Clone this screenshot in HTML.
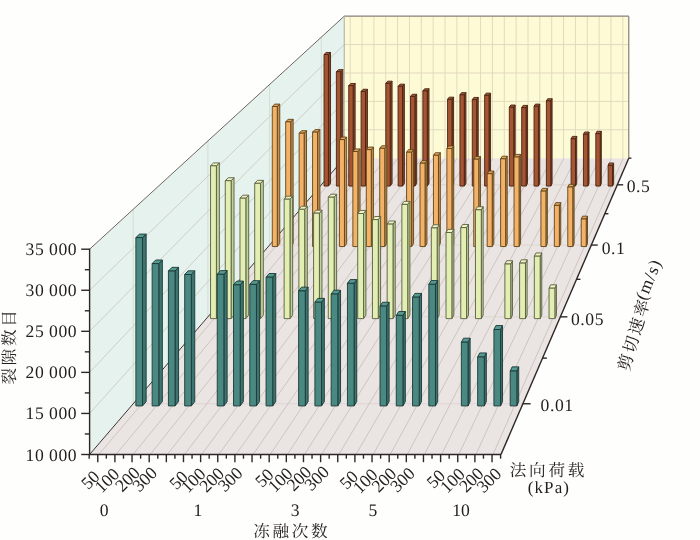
<!DOCTYPE html>
<html><head><meta charset="utf-8"><title>chart</title>
<style>html,body{margin:0;padding:0;background:#fefefc;}body{width:700px;height:540px;overflow:hidden;font-family:"Liberation Serif",serif;}</style></head>
<body>
<svg width="700" height="540" viewBox="0 0 700 540" style="display:block;will-change:transform">
<polygon points="89.60,454.50 501.00,454.50 628.77,158.17 344.24,158.17" fill="#eae5e2"/>
<polygon points="89.60,454.50 344.24,158.17 344.24,16.18 89.60,249.20" fill="#e5f2ee"/>
<polygon points="344.24,158.17 628.77,158.17 628.77,16.18 344.24,16.18" fill="#fdfbd5"/>
<g stroke="#c3b9b7" stroke-width="0.75" fill="none">
<line x1="98.77" y1="454.50" x2="350.58" y2="158.17" />
<line x1="115.91" y1="454.50" x2="362.44" y2="158.17" />
<line x1="133.05" y1="454.50" x2="374.29" y2="158.17" />
<line x1="150.20" y1="454.50" x2="386.15" y2="158.17" />
<line x1="167.34" y1="454.50" x2="398.00" y2="158.17" />
<line x1="184.48" y1="454.50" x2="409.86" y2="158.17" />
<line x1="201.62" y1="454.50" x2="421.71" y2="158.17" />
<line x1="218.76" y1="454.50" x2="433.57" y2="158.17" />
<line x1="235.90" y1="454.50" x2="445.42" y2="158.17" />
<line x1="253.05" y1="454.50" x2="457.28" y2="158.17" />
<line x1="270.19" y1="454.50" x2="469.13" y2="158.17" />
<line x1="287.33" y1="454.50" x2="480.99" y2="158.17" />
<line x1="304.47" y1="454.50" x2="492.84" y2="158.17" />
<line x1="321.61" y1="454.50" x2="504.70" y2="158.17" />
<line x1="338.75" y1="454.50" x2="516.55" y2="158.17" />
<line x1="355.90" y1="454.50" x2="528.41" y2="158.17" />
<line x1="373.04" y1="454.50" x2="540.27" y2="158.17" />
<line x1="390.18" y1="454.50" x2="552.12" y2="158.17" />
<line x1="407.32" y1="454.50" x2="563.98" y2="158.17" />
<line x1="424.46" y1="454.50" x2="575.83" y2="158.17" />
<line x1="441.60" y1="454.50" x2="587.69" y2="158.17" />
<line x1="458.75" y1="454.50" x2="599.54" y2="158.17" />
<line x1="475.89" y1="454.50" x2="611.40" y2="158.17" />
<line x1="493.03" y1="454.50" x2="623.25" y2="158.17" />
</g>
<g stroke="#d6cecb" stroke-width="0.7" fill="none">
<line x1="133.19" y1="403.77" x2="522.87" y2="403.77" />
<line x1="207.89" y1="316.84" x2="560.35" y2="316.84" />
<line x1="269.56" y1="245.07" x2="591.30" y2="245.07" />
<line x1="321.34" y1="184.81" x2="617.28" y2="184.81" />
</g>
<g stroke="#c4beb6" stroke-width="0.7" fill="none">
<line x1="89.60" y1="413.44" x2="344.24" y2="129.77" />
<line x1="89.60" y1="372.38" x2="344.24" y2="101.37" />
<line x1="89.60" y1="331.32" x2="344.24" y2="72.98" />
<line x1="89.60" y1="290.26" x2="344.24" y2="44.58" />
</g>
<g stroke="#d0d2c8" stroke-width="0.7" fill="none">
<line x1="133.19" y1="403.77" x2="133.19" y2="209.31" />
<line x1="207.89" y1="316.84" x2="207.89" y2="140.95" />
<line x1="269.56" y1="245.07" x2="269.56" y2="84.52" />
<line x1="321.34" y1="184.81" x2="321.34" y2="37.13" />
</g>
<g stroke="#e2dac0" stroke-width="1" fill="none">
<line x1="350.16" y1="158.17" x2="350.16" y2="16.18" />
<line x1="362.02" y1="158.17" x2="362.02" y2="16.18" />
<line x1="373.88" y1="158.17" x2="373.88" y2="16.18" />
<line x1="385.73" y1="158.17" x2="385.73" y2="16.18" />
<line x1="397.59" y1="158.17" x2="397.59" y2="16.18" />
<line x1="409.44" y1="158.17" x2="409.44" y2="16.18" />
<line x1="421.30" y1="158.17" x2="421.30" y2="16.18" />
<line x1="433.15" y1="158.17" x2="433.15" y2="16.18" />
<line x1="445.01" y1="158.17" x2="445.01" y2="16.18" />
<line x1="456.86" y1="158.17" x2="456.86" y2="16.18" />
<line x1="468.72" y1="158.17" x2="468.72" y2="16.18" />
<line x1="480.57" y1="158.17" x2="480.57" y2="16.18" />
<line x1="492.43" y1="158.17" x2="492.43" y2="16.18" />
<line x1="504.28" y1="158.17" x2="504.28" y2="16.18" />
<line x1="516.14" y1="158.17" x2="516.14" y2="16.18" />
<line x1="528.00" y1="158.17" x2="528.00" y2="16.18" />
<line x1="539.85" y1="158.17" x2="539.85" y2="16.18" />
<line x1="551.71" y1="158.17" x2="551.71" y2="16.18" />
<line x1="563.56" y1="158.17" x2="563.56" y2="16.18" />
<line x1="575.42" y1="158.17" x2="575.42" y2="16.18" />
<line x1="587.27" y1="158.17" x2="587.27" y2="16.18" />
<line x1="599.13" y1="158.17" x2="599.13" y2="16.18" />
<line x1="610.98" y1="158.17" x2="610.98" y2="16.18" />
<line x1="622.84" y1="158.17" x2="622.84" y2="16.18" />
<line x1="344.24" y1="129.77" x2="628.77" y2="129.77" />
<line x1="344.24" y1="101.37" x2="628.77" y2="101.37" />
<line x1="344.24" y1="72.98" x2="628.77" y2="72.98" />
<line x1="344.24" y1="44.58" x2="628.77" y2="44.58" />
</g>
<line x1="89.60" y1="249.20" x2="344.24" y2="16.18" stroke="#6e6462" stroke-width="1"/>
<line x1="344.24" y1="16.18" x2="628.77" y2="16.18" stroke="#8a7e78" stroke-width="1.2"/>
<line x1="628.77" y1="16.18" x2="628.77" y2="158.17" stroke="#8a7e78" stroke-width="1.2"/>
<line x1="344.24" y1="16.18" x2="344.24" y2="158.17" stroke="#a8a29c" stroke-width="0.9"/>
<line x1="89.60" y1="454.50" x2="344.24" y2="158.17" stroke="#3e3434" stroke-width="1"/>
<g stroke="#472313" stroke-width="0.9" stroke-linejoin="round">
<polygon points="328.43,186.06 330.53,183.57 330.53,52.49 328.43,54.50" fill="#874628"/>
<polygon points="324.03,54.50 328.43,54.50 330.53,52.49 326.15,52.49" fill="#ac5b36"/>
<polygon points="324.03,186.06 328.43,186.06 328.43,54.50 324.03,54.50" fill="#a55532"/>
<polygon points="340.78,186.06 342.84,183.57 342.84,69.63 340.78,71.70" fill="#874628"/>
<polygon points="336.39,71.70 340.78,71.70 342.84,69.63 338.46,69.63" fill="#ac5b36"/>
<polygon points="336.39,186.06 340.78,186.06 340.78,71.70 336.39,71.70" fill="#a55532"/>
<polygon points="353.14,186.06 355.15,183.57 355.15,83.48 353.14,85.60" fill="#874628"/>
<polygon points="348.74,85.60 353.14,85.60 355.15,83.48 350.77,83.48" fill="#ac5b36"/>
<polygon points="348.74,186.06 353.14,186.06 353.14,85.60 348.74,85.60" fill="#a55532"/>
<polygon points="365.49,186.06 367.46,183.57 367.46,89.26 365.49,91.40" fill="#874628"/>
<polygon points="361.09,91.40 365.49,91.40 367.46,89.26 363.08,89.26" fill="#ac5b36"/>
<polygon points="361.09,186.06 365.49,186.06 365.49,91.40 361.09,91.40" fill="#a55532"/>
<polygon points="390.19,186.06 392.08,183.57 392.08,81.19 390.19,83.30" fill="#874628"/>
<polygon points="385.80,83.30 390.19,83.30 392.08,81.19 387.70,81.19" fill="#ac5b36"/>
<polygon points="385.80,186.06 390.19,186.06 390.19,83.30 385.80,83.30" fill="#a55532"/>
<polygon points="402.55,186.06 404.39,183.57 404.39,84.17 402.55,86.30" fill="#874628"/>
<polygon points="398.15,86.30 402.55,86.30 404.39,84.17 400.01,84.17" fill="#ac5b36"/>
<polygon points="398.15,186.06 402.55,186.06 402.55,86.30 398.15,86.30" fill="#a55532"/>
<polygon points="414.90,186.06 416.69,183.57 416.69,94.24 414.90,96.40" fill="#874628"/>
<polygon points="410.50,96.40 414.90,96.40 416.69,94.24 412.31,94.24" fill="#ac5b36"/>
<polygon points="410.50,186.06 414.90,186.06 414.90,96.40 410.50,96.40" fill="#a55532"/>
<polygon points="427.25,186.06 429.00,183.57 429.00,88.76 427.25,90.90" fill="#874628"/>
<polygon points="422.86,90.90 427.25,90.90 429.00,88.76 424.62,88.76" fill="#ac5b36"/>
<polygon points="422.86,186.06 427.25,186.06 427.25,90.90 422.86,90.90" fill="#a55532"/>
<polygon points="451.96,186.06 453.62,183.57 453.62,97.13 451.96,99.30" fill="#874628"/>
<polygon points="447.56,99.30 451.96,99.30 453.62,97.13 449.24,97.13" fill="#ac5b36"/>
<polygon points="447.56,186.06 451.96,186.06 451.96,99.30 447.56,99.30" fill="#a55532"/>
<polygon points="464.31,186.06 465.93,183.57 465.93,92.64 464.31,94.80" fill="#874628"/>
<polygon points="459.92,94.80 464.31,94.80 465.93,92.64 461.55,92.64" fill="#ac5b36"/>
<polygon points="459.92,186.06 464.31,186.06 464.31,94.80 459.92,94.80" fill="#a55532"/>
<polygon points="476.66,186.06 478.24,183.57 478.24,97.43 476.66,99.60" fill="#874628"/>
<polygon points="472.27,99.60 476.66,99.60 478.24,97.43 473.86,97.43" fill="#ac5b36"/>
<polygon points="472.27,186.06 476.66,186.06 476.66,99.60 472.27,99.60" fill="#a55532"/>
<polygon points="489.02,186.06 490.55,183.57 490.55,93.14 489.02,95.30" fill="#874628"/>
<polygon points="484.62,95.30 489.02,95.30 490.55,93.14 486.17,93.14" fill="#ac5b36"/>
<polygon points="484.62,186.06 489.02,186.06 489.02,95.30 484.62,95.30" fill="#a55532"/>
<polygon points="513.72,186.06 515.16,183.57 515.16,105.00 513.72,107.20" fill="#874628"/>
<polygon points="509.33,107.20 513.72,107.20 515.16,105.00 510.78,105.00" fill="#ac5b36"/>
<polygon points="509.33,186.06 513.72,186.06 513.72,107.20 509.33,107.20" fill="#a55532"/>
<polygon points="526.08,186.06 527.47,183.57 527.47,105.40 526.08,107.60" fill="#874628"/>
<polygon points="521.68,107.60 526.08,107.60 527.47,105.40 523.09,105.40" fill="#ac5b36"/>
<polygon points="521.68,186.06 526.08,186.06 526.08,107.60 521.68,107.60" fill="#a55532"/>
<polygon points="538.43,186.06 539.78,183.57 539.78,104.10 538.43,106.30" fill="#874628"/>
<polygon points="534.03,106.30 538.43,106.30 539.78,104.10 535.40,104.10" fill="#ac5b36"/>
<polygon points="534.03,186.06 538.43,186.06 538.43,106.30 534.03,106.30" fill="#a55532"/>
<polygon points="550.78,186.06 552.09,183.57 552.09,98.72 550.78,100.90" fill="#874628"/>
<polygon points="546.39,100.90 550.78,100.90 552.09,98.72 547.71,98.72" fill="#ac5b36"/>
<polygon points="546.39,186.06 550.78,186.06 550.78,100.90 546.39,100.90" fill="#a55532"/>
<polygon points="575.49,186.06 576.71,183.57 576.71,136.39 575.49,138.70" fill="#874628"/>
<polygon points="571.09,138.70 575.49,138.70 576.71,136.39 572.33,136.39" fill="#ac5b36"/>
<polygon points="571.09,186.06 575.49,186.06 575.49,138.70 571.09,138.70" fill="#a55532"/>
<polygon points="587.84,186.06 589.01,183.57 589.01,132.00 587.84,134.30" fill="#874628"/>
<polygon points="583.44,134.30 587.84,134.30 589.01,132.00 584.63,132.00" fill="#ac5b36"/>
<polygon points="583.44,186.06 587.84,186.06 587.84,134.30 583.44,134.30" fill="#a55532"/>
<polygon points="600.19,186.06 601.32,183.57 601.32,131.30 600.19,133.60" fill="#874628"/>
<polygon points="595.80,133.60 600.19,133.60 601.32,131.30 596.94,131.30" fill="#ac5b36"/>
<polygon points="595.80,186.06 600.19,186.06 600.19,133.60 595.80,133.60" fill="#a55532"/>
<polygon points="612.55,186.06 613.63,183.57 613.63,162.99 612.55,165.40" fill="#874628"/>
<polygon points="608.15,165.40 612.55,165.40 613.63,162.99 609.25,162.99" fill="#ac5b36"/>
<polygon points="608.15,186.06 612.55,186.06 612.55,165.40 608.15,165.40" fill="#a55532"/>
</g>
<g stroke="#5f4318" stroke-width="0.9" stroke-linejoin="round">
<polygon points="277.28,246.54 279.77,243.61 279.77,104.11 277.28,106.50" fill="#c39155"/>
<polygon points="272.27,106.50 277.28,106.50 279.77,104.11 274.78,104.11" fill="#e3a55c"/>
<polygon points="272.27,246.54 277.28,246.54 277.28,106.50 272.27,106.50" fill="#f3b268"/>
<polygon points="290.72,246.54 293.15,243.61 293.15,119.35 290.72,121.80" fill="#c39155"/>
<polygon points="285.70,121.80 290.72,121.80 293.15,119.35 288.16,119.35" fill="#e3a55c"/>
<polygon points="285.70,246.54 290.72,246.54 290.72,121.80 285.70,121.80" fill="#f3b268"/>
<polygon points="304.15,246.54 306.53,243.61 306.53,130.71 304.15,133.20" fill="#c39155"/>
<polygon points="299.13,133.20 304.15,133.20 306.53,130.71 301.54,130.71" fill="#e3a55c"/>
<polygon points="299.13,246.54 304.15,246.54 304.15,133.20 299.13,133.20" fill="#f3b268"/>
<polygon points="317.58,246.54 319.91,243.61 319.91,129.61 317.58,132.10" fill="#c39155"/>
<polygon points="312.57,132.10 317.58,132.10 319.91,129.61 314.91,129.61" fill="#e3a55c"/>
<polygon points="312.57,246.54 317.58,246.54 317.58,132.10 312.57,132.10" fill="#f3b268"/>
<polygon points="344.44,246.54 346.67,243.61 346.67,137.08 344.44,139.60" fill="#c39155"/>
<polygon points="339.43,139.60 344.44,139.60 346.67,137.08 341.67,137.08" fill="#e3a55c"/>
<polygon points="339.43,246.54 344.44,246.54 344.44,139.60 339.43,139.60" fill="#f3b268"/>
<polygon points="357.88,246.54 360.05,243.61 360.05,148.94 357.88,151.50" fill="#c39155"/>
<polygon points="352.86,151.50 357.88,151.50 360.05,148.94 355.05,148.94" fill="#e3a55c"/>
<polygon points="352.86,246.54 357.88,246.54 357.88,151.50 352.86,151.50" fill="#f3b268"/>
<polygon points="371.31,246.54 373.43,243.61 373.43,147.04 371.31,149.60" fill="#c39155"/>
<polygon points="366.29,149.60 371.31,149.60 373.43,147.04 368.43,147.04" fill="#e3a55c"/>
<polygon points="366.29,246.54 371.31,246.54 371.31,149.60 366.29,149.60" fill="#f3b268"/>
<polygon points="384.74,246.54 386.81,243.61 386.81,145.75 384.74,148.30" fill="#c39155"/>
<polygon points="379.72,148.30 384.74,148.30 386.81,145.75 381.81,145.75" fill="#e3a55c"/>
<polygon points="379.72,246.54 384.74,246.54 384.74,148.30 379.72,148.30" fill="#f3b268"/>
<polygon points="411.60,246.54 413.57,243.61 413.57,149.63 411.60,152.20" fill="#c39155"/>
<polygon points="406.59,152.20 411.60,152.20 413.57,149.63 408.57,149.63" fill="#e3a55c"/>
<polygon points="406.59,246.54 411.60,246.54 411.60,152.20 406.59,152.20" fill="#f3b268"/>
<polygon points="425.04,246.54 426.95,243.61 426.95,160.59 425.04,163.20" fill="#c39155"/>
<polygon points="420.02,163.20 425.04,163.20 426.95,160.59 421.95,160.59" fill="#e3a55c"/>
<polygon points="420.02,246.54 425.04,246.54 425.04,163.20 420.02,163.20" fill="#f3b268"/>
<polygon points="438.47,246.54 440.33,243.61 440.33,152.72 438.47,155.30" fill="#c39155"/>
<polygon points="433.45,155.30 438.47,155.30 440.33,152.72 435.33,152.72" fill="#e3a55c"/>
<polygon points="433.45,246.54 438.47,246.54 438.47,155.30 433.45,155.30" fill="#f3b268"/>
<polygon points="451.90,246.54 453.71,243.61 453.71,145.95 451.90,148.50" fill="#c39155"/>
<polygon points="446.88,148.50 451.90,148.50 453.71,145.95 448.71,145.95" fill="#e3a55c"/>
<polygon points="446.88,246.54 451.90,246.54 451.90,148.50 446.88,148.50" fill="#f3b268"/>
<polygon points="478.76,246.54 480.46,243.61 480.46,156.61 478.76,159.20" fill="#c39155"/>
<polygon points="473.75,159.20 478.76,159.20 480.46,156.61 475.47,156.61" fill="#e3a55c"/>
<polygon points="473.75,246.54 478.76,246.54 478.76,159.20 473.75,159.20" fill="#f3b268"/>
<polygon points="492.20,246.54 493.84,243.61 493.84,171.05 492.20,173.70" fill="#c39155"/>
<polygon points="487.18,173.70 492.20,173.70 493.84,171.05 488.85,171.05" fill="#e3a55c"/>
<polygon points="487.18,246.54 492.20,246.54 492.20,173.70 487.18,173.70" fill="#f3b268"/>
<polygon points="505.63,246.54 507.22,243.61 507.22,156.21 505.63,158.80" fill="#c39155"/>
<polygon points="500.61,158.80 505.63,158.80 507.22,156.21 502.23,156.21" fill="#e3a55c"/>
<polygon points="500.61,246.54 505.63,246.54 505.63,158.80 500.61,158.80" fill="#f3b268"/>
<polygon points="519.06,246.54 520.60,243.61 520.60,154.41 519.06,157.00" fill="#c39155"/>
<polygon points="514.04,157.00 519.06,157.00 520.60,154.41 515.61,154.41" fill="#e3a55c"/>
<polygon points="514.04,246.54 519.06,246.54 519.06,157.00 514.04,157.00" fill="#f3b268"/>
<polygon points="545.92,246.54 547.36,243.61 547.36,188.38 545.92,191.10" fill="#c39155"/>
<polygon points="540.91,191.10 545.92,191.10 547.36,188.38 542.37,188.38" fill="#e3a55c"/>
<polygon points="540.91,246.54 545.92,246.54 545.92,191.10 540.91,191.10" fill="#f3b268"/>
<polygon points="559.35,246.54 560.74,243.61 560.74,202.63 559.35,205.40" fill="#c39155"/>
<polygon points="554.34,205.40 559.35,205.40 560.74,202.63 555.75,202.63" fill="#e3a55c"/>
<polygon points="554.34,246.54 559.35,246.54 559.35,205.40 554.34,205.40" fill="#f3b268"/>
<polygon points="572.79,246.54 574.12,243.61 574.12,184.30 572.79,187.00" fill="#c39155"/>
<polygon points="567.77,187.00 572.79,187.00 574.12,184.30 569.13,184.30" fill="#e3a55c"/>
<polygon points="567.77,246.54 572.79,246.54 572.79,187.00 567.77,187.00" fill="#f3b268"/>
<polygon points="586.22,246.54 587.50,243.61 587.50,216.17 586.22,219.00" fill="#c39155"/>
<polygon points="581.20,219.00 586.22,219.00 587.50,216.17 582.51,216.17" fill="#e3a55c"/>
<polygon points="581.20,246.54 586.22,246.54 586.22,219.00 581.20,219.00" fill="#f3b268"/>
</g>
<g stroke="#595c40" stroke-width="0.9" stroke-linejoin="round">
<polygon points="216.39,318.61 219.38,315.09 219.38,162.93 216.39,165.80" fill="#bed29b"/>
<polygon points="210.55,165.80 216.39,165.80 219.38,162.93 213.56,162.93" fill="#eef4c4"/>
<polygon points="210.55,318.61 216.39,318.61 216.39,165.80 210.55,165.80" fill="#e2eeb2"/>
<polygon points="231.11,318.61 234.03,315.09 234.03,177.77 231.11,180.70" fill="#bed29b"/>
<polygon points="225.27,180.70 231.11,180.70 234.03,177.77 228.22,177.77" fill="#eef4c4"/>
<polygon points="225.27,318.61 231.11,318.61 231.11,180.70 225.27,180.70" fill="#e2eeb2"/>
<polygon points="245.83,318.61 248.69,315.09 248.69,195.19 245.83,198.20" fill="#bed29b"/>
<polygon points="239.99,198.20 245.83,198.20 248.69,195.19 242.87,195.19" fill="#eef4c4"/>
<polygon points="239.99,318.61 245.83,318.61 245.83,198.20 239.99,198.20" fill="#e2eeb2"/>
<polygon points="260.54,318.61 263.34,315.09 263.34,180.36 260.54,183.30" fill="#bed29b"/>
<polygon points="254.71,183.30 260.54,183.30 263.34,180.36 257.53,180.36" fill="#eef4c4"/>
<polygon points="254.71,318.61 260.54,318.61 260.54,183.30 254.71,183.30" fill="#e2eeb2"/>
<polygon points="289.98,318.61 292.65,315.09 292.65,196.19 289.98,199.20" fill="#bed29b"/>
<polygon points="284.14,199.20 289.98,199.20 292.65,196.19 286.84,196.19" fill="#eef4c4"/>
<polygon points="284.14,318.61 289.98,318.61 289.98,199.20 284.14,199.20" fill="#e2eeb2"/>
<polygon points="304.70,318.61 307.30,315.09 307.30,206.24 304.70,209.30" fill="#bed29b"/>
<polygon points="298.86,209.30 304.70,209.30 307.30,206.24 301.49,206.24" fill="#eef4c4"/>
<polygon points="298.86,318.61 304.70,318.61 304.70,209.30 298.86,209.30" fill="#e2eeb2"/>
<polygon points="319.41,318.61 321.96,315.09 321.96,210.13 319.41,213.20" fill="#bed29b"/>
<polygon points="313.58,213.20 319.41,213.20 321.96,210.13 316.14,210.13" fill="#eef4c4"/>
<polygon points="313.58,318.61 319.41,318.61 319.41,213.20 313.58,213.20" fill="#e2eeb2"/>
<polygon points="334.13,318.61 336.61,315.09 336.61,194.20 334.13,197.20" fill="#bed29b"/>
<polygon points="328.29,197.20 334.13,197.20 336.61,194.20 330.80,194.20" fill="#eef4c4"/>
<polygon points="328.29,318.61 334.13,318.61 334.13,197.20 328.29,197.20" fill="#e2eeb2"/>
<polygon points="363.57,318.61 365.92,315.09 365.92,210.43 363.57,213.50" fill="#bed29b"/>
<polygon points="357.73,213.50 363.57,213.50 365.92,210.43 360.11,210.43" fill="#eef4c4"/>
<polygon points="357.73,318.61 363.57,318.61 363.57,213.50 357.73,213.50" fill="#e2eeb2"/>
<polygon points="378.28,318.61 380.58,315.09 380.58,216.50 378.28,219.60" fill="#bed29b"/>
<polygon points="372.45,219.60 378.28,219.60 380.58,216.50 374.76,216.50" fill="#eef4c4"/>
<polygon points="372.45,318.61 378.28,318.61 378.28,219.60 372.45,219.60" fill="#e2eeb2"/>
<polygon points="393.00,318.61 395.23,315.09 395.23,220.98 393.00,224.10" fill="#bed29b"/>
<polygon points="387.16,224.10 393.00,224.10 395.23,220.98 389.42,220.98" fill="#eef4c4"/>
<polygon points="387.16,318.61 393.00,318.61 393.00,224.10 387.16,224.10" fill="#e2eeb2"/>
<polygon points="407.72,318.61 409.89,315.09 409.89,201.37 407.72,204.40" fill="#bed29b"/>
<polygon points="401.88,204.40 407.72,204.40 409.89,201.37 404.07,201.37" fill="#eef4c4"/>
<polygon points="401.88,318.61 407.72,318.61 407.72,204.40 401.88,204.40" fill="#e2eeb2"/>
<polygon points="437.15,318.61 439.20,315.09 439.20,224.76 437.15,227.90" fill="#bed29b"/>
<polygon points="431.32,227.90 437.15,227.90 439.20,224.76 433.38,224.76" fill="#eef4c4"/>
<polygon points="431.32,318.61 437.15,318.61 437.15,227.90 431.32,227.90" fill="#e2eeb2"/>
<polygon points="451.87,318.61 453.85,315.09 453.85,229.35 451.87,232.50" fill="#bed29b"/>
<polygon points="446.03,232.50 451.87,232.50 453.85,229.35 448.04,229.35" fill="#eef4c4"/>
<polygon points="446.03,318.61 451.87,318.61 451.87,232.50 446.03,232.50" fill="#e2eeb2"/>
<polygon points="466.59,318.61 468.50,315.09 468.50,224.47 466.59,227.60" fill="#bed29b"/>
<polygon points="460.75,227.60 466.59,227.60 468.50,224.47 462.69,224.47" fill="#eef4c4"/>
<polygon points="460.75,318.61 466.59,318.61 466.59,227.60 460.75,227.60" fill="#e2eeb2"/>
<polygon points="481.31,318.61 483.16,315.09 483.16,206.74 481.31,209.80" fill="#bed29b"/>
<polygon points="475.47,209.80 481.31,209.80 483.16,206.74 477.35,206.74" fill="#eef4c4"/>
<polygon points="475.47,318.61 481.31,318.61 481.31,209.80 475.47,209.80" fill="#e2eeb2"/>
<polygon points="510.74,318.61 512.47,315.09 512.47,260.71 510.74,264.00" fill="#bed29b"/>
<polygon points="504.90,264.00 510.74,264.00 512.47,260.71 506.66,260.71" fill="#eef4c4"/>
<polygon points="504.90,318.61 510.74,318.61 510.74,264.00 504.90,264.00" fill="#e2eeb2"/>
<polygon points="525.46,318.61 527.12,315.09 527.12,259.81 525.46,263.10" fill="#bed29b"/>
<polygon points="519.62,263.10 525.46,263.10 527.12,259.81 521.31,259.81" fill="#eef4c4"/>
<polygon points="519.62,318.61 525.46,318.61 525.46,263.10 519.62,263.10" fill="#e2eeb2"/>
<polygon points="540.18,318.61 541.78,315.09 541.78,252.94 540.18,256.20" fill="#bed29b"/>
<polygon points="534.34,256.20 540.18,256.20 541.78,252.94 535.96,252.94" fill="#eef4c4"/>
<polygon points="534.34,318.61 540.18,318.61 540.18,256.20 534.34,256.20" fill="#e2eeb2"/>
<polygon points="554.89,318.61 556.43,315.09 556.43,284.81 554.89,288.20" fill="#bed29b"/>
<polygon points="549.06,288.20 554.89,288.20 556.43,284.81 550.62,284.81" fill="#eef4c4"/>
<polygon points="549.06,318.61 554.89,318.61 554.89,288.20 549.06,288.20" fill="#e2eeb2"/>
</g>
<g stroke="#1b3835" stroke-width="0.9" stroke-linejoin="round">
<polygon points="142.51,405.93 146.16,401.62 146.16,234.09 142.51,237.60" fill="#3c746f"/>
<polygon points="135.87,237.60 142.51,237.60 146.16,234.09 139.55,234.09" fill="#569a91"/>
<polygon points="135.87,405.93 142.51,405.93 142.51,237.60 135.87,237.60" fill="#4a8982"/>
<polygon points="158.79,405.93 162.36,401.62 162.36,259.97 158.79,263.60" fill="#3c746f"/>
<polygon points="152.14,263.60 158.79,263.60 162.36,259.97 155.74,259.97" fill="#569a91"/>
<polygon points="152.14,405.93 158.79,405.93 158.79,263.60 152.14,263.60" fill="#4a8982"/>
<polygon points="175.06,405.93 178.56,401.62 178.56,267.33 175.06,271.00" fill="#3c746f"/>
<polygon points="168.42,271.00 175.06,271.00 178.56,267.33 171.94,267.33" fill="#569a91"/>
<polygon points="168.42,405.93 175.06,405.93 175.06,271.00 168.42,271.00" fill="#4a8982"/>
<polygon points="191.34,405.93 194.76,401.62 194.76,270.81 191.34,274.50" fill="#3c746f"/>
<polygon points="184.69,274.50 191.34,274.50 194.76,270.81 188.14,270.81" fill="#569a91"/>
<polygon points="184.69,405.93 191.34,405.93 191.34,274.50 184.69,274.50" fill="#4a8982"/>
<polygon points="223.89,405.93 227.15,401.62 227.15,270.62 223.89,274.30" fill="#3c746f"/>
<polygon points="217.24,274.30 223.89,274.30 227.15,270.62 220.54,270.62" fill="#569a91"/>
<polygon points="217.24,405.93 223.89,405.93 223.89,274.30 217.24,274.30" fill="#4a8982"/>
<polygon points="240.17,405.93 243.35,401.62 243.35,281.07 240.17,284.80" fill="#3c746f"/>
<polygon points="233.52,284.80 240.17,284.80 243.35,281.07 236.74,281.07" fill="#569a91"/>
<polygon points="233.52,405.93 240.17,405.93 240.17,284.80 233.52,284.80" fill="#4a8982"/>
<polygon points="256.44,405.93 259.55,401.62 259.55,280.67 256.44,284.40" fill="#3c746f"/>
<polygon points="249.79,284.40 256.44,284.40 259.55,280.67 252.94,280.67" fill="#569a91"/>
<polygon points="249.79,405.93 256.44,405.93 256.44,284.40 249.79,284.40" fill="#4a8982"/>
<polygon points="272.72,405.93 275.75,401.62 275.75,273.50 272.72,277.20" fill="#3c746f"/>
<polygon points="266.07,277.20 272.72,277.20 275.75,273.50 269.13,273.50" fill="#569a91"/>
<polygon points="266.07,405.93 272.72,405.93 272.72,277.20 266.07,277.20" fill="#4a8982"/>
<polygon points="305.27,405.93 308.14,401.62 308.14,287.14 305.27,290.90" fill="#3c746f"/>
<polygon points="298.62,290.90 305.27,290.90 308.14,287.14 301.53,287.14" fill="#569a91"/>
<polygon points="298.62,405.93 305.27,405.93 305.27,290.90 298.62,290.90" fill="#4a8982"/>
<polygon points="321.54,405.93 324.34,401.62 324.34,298.38 321.54,302.20" fill="#3c746f"/>
<polygon points="314.90,302.20 321.54,302.20 324.34,298.38 317.73,298.38" fill="#569a91"/>
<polygon points="314.90,405.93 321.54,405.93 321.54,302.20 314.90,302.20" fill="#4a8982"/>
<polygon points="337.82,405.93 340.54,401.62 340.54,290.22 337.82,294.00" fill="#3c746f"/>
<polygon points="331.17,294.00 337.82,294.00 340.54,290.22 333.93,290.22" fill="#569a91"/>
<polygon points="331.17,405.93 337.82,405.93 337.82,294.00 331.17,294.00" fill="#4a8982"/>
<polygon points="354.09,405.93 356.74,401.62 356.74,279.57 354.09,283.30" fill="#3c746f"/>
<polygon points="347.45,283.30 354.09,283.30 356.74,279.57 350.13,279.57" fill="#569a91"/>
<polygon points="347.45,405.93 354.09,405.93 354.09,283.30 347.45,283.30" fill="#4a8982"/>
<polygon points="386.64,405.93 389.14,401.62 389.14,302.27 386.64,306.10" fill="#3c746f"/>
<polygon points="380.00,306.10 386.64,306.10 389.14,302.27 382.52,302.27" fill="#569a91"/>
<polygon points="380.00,405.93 386.64,405.93 386.64,306.10 380.00,306.10" fill="#4a8982"/>
<polygon points="402.92,405.93 405.34,401.62 405.34,311.52 402.92,315.40" fill="#3c746f"/>
<polygon points="396.27,315.40 402.92,315.40 405.34,311.52 398.72,311.52" fill="#569a91"/>
<polygon points="396.27,405.93 402.92,405.93 402.92,315.40 396.27,315.40" fill="#4a8982"/>
<polygon points="419.19,405.93 421.53,401.62 421.53,293.41 419.19,297.20" fill="#3c746f"/>
<polygon points="412.55,297.20 419.19,297.20 421.53,293.41 414.92,293.41" fill="#569a91"/>
<polygon points="412.55,405.93 419.19,405.93 419.19,297.20 412.55,297.20" fill="#4a8982"/>
<polygon points="435.47,405.93 437.73,401.62 437.73,280.57 435.47,284.30" fill="#3c746f"/>
<polygon points="428.82,284.30 435.47,284.30 437.73,280.57 431.12,280.57" fill="#569a91"/>
<polygon points="428.82,405.93 435.47,405.93 435.47,284.30 428.82,284.30" fill="#4a8982"/>
<polygon points="468.02,405.93 470.13,401.62 470.13,338.20 468.02,342.20" fill="#3c746f"/>
<polygon points="461.37,342.20 468.02,342.20 470.13,338.20 463.51,338.20" fill="#569a91"/>
<polygon points="461.37,405.93 468.02,405.93 468.02,342.20 461.37,342.20" fill="#4a8982"/>
<polygon points="484.29,405.93 486.33,401.62 486.33,352.93 484.29,357.00" fill="#3c746f"/>
<polygon points="477.65,357.00 484.29,357.00 486.33,352.93 479.71,352.93" fill="#569a91"/>
<polygon points="477.65,405.93 484.29,405.93 484.29,357.00 477.65,357.00" fill="#4a8982"/>
<polygon points="500.57,405.93 502.53,401.62 502.53,325.56 500.57,329.50" fill="#3c746f"/>
<polygon points="493.92,329.50 500.57,329.50 502.53,325.56 495.91,325.56" fill="#569a91"/>
<polygon points="493.92,405.93 500.57,405.93 500.57,329.50 493.92,329.50" fill="#4a8982"/>
<polygon points="516.84,405.93 518.72,401.62 518.72,366.86 516.84,371.00" fill="#3c746f"/>
<polygon points="510.20,371.00 516.84,371.00 518.72,366.86 512.11,366.86" fill="#569a91"/>
<polygon points="510.20,405.93 516.84,405.93 516.84,371.00 510.20,371.00" fill="#4a8982"/>
</g>
<g stroke="#2e2626" stroke-width="1.4" fill="none" stroke-linecap="butt">
<line x1="89.60" y1="248.60" x2="89.60" y2="455.10" />
<line x1="81.20" y1="454.50" x2="89.60" y2="454.50" />
<line x1="84.80" y1="433.97" x2="89.60" y2="433.97" />
<line x1="81.20" y1="413.44" x2="89.60" y2="413.44" />
<line x1="84.80" y1="392.91" x2="89.60" y2="392.91" />
<line x1="81.20" y1="372.38" x2="89.60" y2="372.38" />
<line x1="84.80" y1="351.85" x2="89.60" y2="351.85" />
<line x1="81.20" y1="331.32" x2="89.60" y2="331.32" />
<line x1="84.80" y1="310.79" x2="89.60" y2="310.79" />
<line x1="81.20" y1="290.26" x2="89.60" y2="290.26" />
<line x1="84.80" y1="269.73" x2="89.60" y2="269.73" />
<line x1="81.20" y1="249.20" x2="89.60" y2="249.20" />
<line x1="89.60" y1="454.50" x2="501.00" y2="454.50" />
<line x1="97.77" y1="454.50" x2="97.77" y2="462.20" />
<line x1="114.91" y1="454.50" x2="114.91" y2="462.20" />
<line x1="132.05" y1="454.50" x2="132.05" y2="462.20" />
<line x1="149.20" y1="454.50" x2="149.20" y2="462.20" />
<line x1="166.34" y1="454.50" x2="166.34" y2="462.20" />
<line x1="183.48" y1="454.50" x2="183.48" y2="462.20" />
<line x1="200.62" y1="454.50" x2="200.62" y2="462.20" />
<line x1="217.76" y1="454.50" x2="217.76" y2="462.20" />
<line x1="234.90" y1="454.50" x2="234.90" y2="462.20" />
<line x1="252.05" y1="454.50" x2="252.05" y2="462.20" />
<line x1="269.19" y1="454.50" x2="269.19" y2="462.20" />
<line x1="286.33" y1="454.50" x2="286.33" y2="462.20" />
<line x1="303.47" y1="454.50" x2="303.47" y2="462.20" />
<line x1="320.61" y1="454.50" x2="320.61" y2="462.20" />
<line x1="337.75" y1="454.50" x2="337.75" y2="462.20" />
<line x1="354.90" y1="454.50" x2="354.90" y2="462.20" />
<line x1="372.04" y1="454.50" x2="372.04" y2="462.20" />
<line x1="389.18" y1="454.50" x2="389.18" y2="462.20" />
<line x1="406.32" y1="454.50" x2="406.32" y2="462.20" />
<line x1="423.46" y1="454.50" x2="423.46" y2="462.20" />
<line x1="440.60" y1="454.50" x2="440.60" y2="462.20" />
<line x1="457.75" y1="454.50" x2="457.75" y2="462.20" />
<line x1="474.89" y1="454.50" x2="474.89" y2="462.20" />
<line x1="492.03" y1="454.50" x2="492.03" y2="462.20" />
<line x1="89.20" y1="454.50" x2="89.20" y2="458.70" />
<line x1="106.34" y1="454.50" x2="106.34" y2="458.70" />
<line x1="123.48" y1="454.50" x2="123.48" y2="458.70" />
<line x1="140.62" y1="454.50" x2="140.62" y2="458.70" />
<line x1="157.77" y1="454.50" x2="157.77" y2="458.70" />
<line x1="174.91" y1="454.50" x2="174.91" y2="458.70" />
<line x1="192.05" y1="454.50" x2="192.05" y2="458.70" />
<line x1="209.19" y1="454.50" x2="209.19" y2="458.70" />
<line x1="226.33" y1="454.50" x2="226.33" y2="458.70" />
<line x1="243.47" y1="454.50" x2="243.47" y2="458.70" />
<line x1="260.62" y1="454.50" x2="260.62" y2="458.70" />
<line x1="277.76" y1="454.50" x2="277.76" y2="458.70" />
<line x1="294.90" y1="454.50" x2="294.90" y2="458.70" />
<line x1="312.04" y1="454.50" x2="312.04" y2="458.70" />
<line x1="329.18" y1="454.50" x2="329.18" y2="458.70" />
<line x1="346.33" y1="454.50" x2="346.33" y2="458.70" />
<line x1="363.47" y1="454.50" x2="363.47" y2="458.70" />
<line x1="380.61" y1="454.50" x2="380.61" y2="458.70" />
<line x1="397.75" y1="454.50" x2="397.75" y2="458.70" />
<line x1="414.89" y1="454.50" x2="414.89" y2="458.70" />
<line x1="432.03" y1="454.50" x2="432.03" y2="458.70" />
<line x1="449.17" y1="454.50" x2="449.17" y2="458.70" />
<line x1="466.32" y1="454.50" x2="466.32" y2="458.70" />
<line x1="483.46" y1="454.50" x2="483.46" y2="458.70" />
<line x1="500.60" y1="454.50" x2="500.60" y2="458.70" />
<line x1="501.00" y1="454.50" x2="628.77" y2="158.17" />
<line x1="522.87" y1="403.77" x2="530.64" y2="403.77" />
<line x1="542.55" y1="358.13" x2="546.87" y2="358.13" />
<line x1="560.35" y1="316.84" x2="567.38" y2="316.84" />
<line x1="576.53" y1="279.32" x2="580.45" y2="279.32" />
<line x1="591.30" y1="245.07" x2="597.71" y2="245.07" />
<line x1="604.83" y1="213.69" x2="608.43" y2="213.69" />
<line x1="617.28" y1="184.81" x2="623.18" y2="184.81" />
<line x1="628.77" y1="158.17" x2="631.37" y2="158.17" />
</g>
<g font-family="Liberation Serif, serif" font-size="17.6px" text-rendering="geometricPrecision" fill="#231e1e">
<text x="77.0" y="460.5" text-anchor="end" letter-spacing="0.5">10 000</text>
<text x="77.0" y="419.4" text-anchor="end" letter-spacing="0.5">15 000</text>
<text x="77.0" y="378.4" text-anchor="end" letter-spacing="0.5">20 000</text>
<text x="77.0" y="337.3" text-anchor="end" letter-spacing="0.5">25 000</text>
<text x="77.0" y="296.3" text-anchor="end" letter-spacing="0.5">30 000</text>
<text x="77.0" y="255.2" text-anchor="end" letter-spacing="0.5">35 000</text>
<text transform="translate(100.7,477.8) rotate(-45)" text-anchor="end">50</text>
<text transform="translate(120.4,475.2) rotate(-45)" text-anchor="end">100</text>
<text transform="translate(141.0,474.0) rotate(-45)" text-anchor="end">200</text>
<text transform="translate(158.1,474.0) rotate(-45)" text-anchor="end">300</text>
<text transform="translate(189.0,478.1) rotate(-45)" text-anchor="end">50</text>
<text transform="translate(206.6,475.1) rotate(-45)" text-anchor="end">100</text>
<text transform="translate(225.1,474.7) rotate(-45)" text-anchor="end">200</text>
<text transform="translate(243.6,474.2) rotate(-45)" text-anchor="end">300</text>
<text transform="translate(274.7,475.8) rotate(-45)" text-anchor="end">50</text>
<text transform="translate(293.6,474.7) rotate(-45)" text-anchor="end">100</text>
<text transform="translate(312.4,473.3) rotate(-45)" text-anchor="end">200</text>
<text transform="translate(330.2,473.0) rotate(-45)" text-anchor="end">300</text>
<text transform="translate(359.2,477.9) rotate(-45)" text-anchor="end">50</text>
<text transform="translate(378.6,475.8) rotate(-45)" text-anchor="end">100</text>
<text transform="translate(397.4,474.7) rotate(-45)" text-anchor="end">200</text>
<text transform="translate(415.9,474.5) rotate(-45)" text-anchor="end">300</text>
<text transform="translate(446.1,476.7) rotate(-45)" text-anchor="end">50</text>
<text transform="translate(465.9,475.4) rotate(-45)" text-anchor="end">100</text>
<text transform="translate(484.8,474.7) rotate(-45)" text-anchor="end">200</text>
<text transform="translate(502.5,475.1) rotate(-45)" text-anchor="end">300</text>
<text x="104.2" y="515.8" text-anchor="middle">0</text>
<text x="197.9" y="515.8" text-anchor="middle">1</text>
<text x="295.2" y="515.8" text-anchor="middle">3</text>
<text x="373.0" y="515.8" text-anchor="middle">5</text>
<text x="461.0" y="515.8" text-anchor="middle">10</text>
<text x="540.6" y="410.6" letter-spacing="0.55">0.01</text>
<text x="571.0" y="325.2" letter-spacing="0.55">0.05</text>
<text x="601.7" y="253.6" letter-spacing="0.55">0.1</text>
<text x="626.7" y="192.0" letter-spacing="0.55">0.5</text>
<text x="548.9" y="493" text-anchor="middle" font-size="17px" letter-spacing="1.1">(kPa)</text>
</g>
<g fill="#231e1e">
<text x="253.2" y="537.4" font-family="'Liberation Serif', 'Noto Serif CJK SC', serif" font-size="16.6px" letter-spacing="2.7" text-rendering="geometricPrecision">冻融次数</text>
<text x="509.8" y="476.1" font-family="'Liberation Serif', 'Noto Serif CJK SC', serif" font-size="16.6px" letter-spacing="2.7" text-rendering="geometricPrecision">法向荷载</text>
<text transform="translate(15.3,384.6) rotate(-90)" font-family="'Liberation Serif', 'Noto Serif CJK SC', serif" font-size="16.6px" letter-spacing="2.7" text-rendering="geometricPrecision">裂隙数目</text>
<text transform="translate(628.8,372.1) rotate(-73.3)" font-family="'Liberation Serif', 'Noto Serif CJK SC', serif" font-size="16.6px" letter-spacing="2.3" text-rendering="geometricPrecision">剪切速率</text>
<text transform="translate(646.0,301.3) rotate(-68)" font-family="Liberation Serif, serif" font-size="17.6px" letter-spacing="1.1" text-rendering="geometricPrecision">(m/s)</text>
</g>
</svg>
</body></html>
